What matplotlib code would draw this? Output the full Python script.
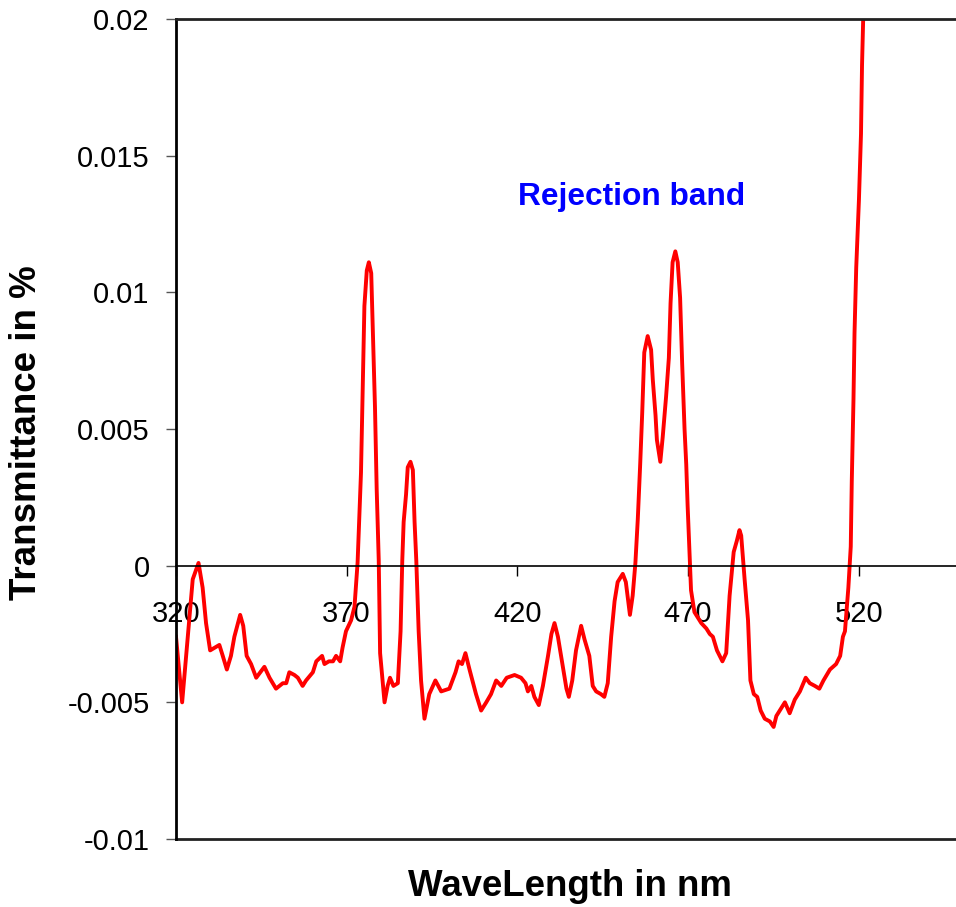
import matplotlib.pyplot as plt

plt.rcParams['font.family'] = ['Liberation Sans', 'DejaVu Sans']

# wavelength (nm) and transmittance (%)
wavelength = [320.0, 321.8, 324.9, 326.6, 327.8, 328.8, 330.0, 332.7, 333.7, 334.9,
              336.1, 337.1, 338.8, 339.7, 340.7, 342.0, 343.5, 345.9, 347.4, 349.3,
              351.3, 352.3, 353.2, 354.7, 355.7, 357.1, 358.1, 360.1, 361.1, 362.8,
              363.5, 364.8, 366.0, 366.9, 368.1, 368.8, 369.8, 371.3, 372.3, 373.2,
              374.2, 374.7, 375.2, 375.9, 376.5, 377.2, 377.6, 378.3, 378.8, 379.4,
              379.8, 381.1, 382.0, 382.7, 383.7, 385.0, 385.8, 386.3, 386.7, 387.4,
              387.9, 388.7, 389.4, 389.9, 390.4, 391.1, 391.8, 392.8, 394.2, 396.0,
              397.7, 400.1, 401.9, 402.8, 403.8, 404.8, 406.0, 407.9, 409.4, 410.9,
              412.3, 413.8, 415.3, 416.9, 419.2, 421.1, 422.4, 423.1, 424.1, 425.0,
              426.3, 427.5, 429.0, 430.0, 430.9, 431.9, 433.2, 434.4, 435.1, 436.1,
              437.2, 438.7, 439.7, 441.1, 442.1, 443.1, 444.5, 445.5, 446.5, 447.5,
              448.5, 449.4, 450.9, 451.8, 453.0, 453.8, 454.6, 455.3, 456.0, 456.6,
              457.2, 458.2, 459.2, 459.7, 460.5, 460.9, 461.9, 462.6, 463.6, 464.4,
              464.9, 465.5, 466.3, 467.0, 467.7, 468.3, 469.0, 469.5, 469.9, 470.4,
              470.9, 471.9, 473.9, 475.4, 476.4, 477.3, 478.5, 480.1, 481.2, 482.2,
              483.4, 484.3, 485.1, 485.6, 486.6, 487.6, 488.3, 489.3, 490.3, 491.3,
              492.5, 494.0, 495.1, 495.9, 496.9, 498.4, 499.8, 501.3, 502.8, 504.5,
              505.7, 507.2, 508.5, 509.7, 511.6, 513.4, 514.6, 515.4, 516.0, 517.0,
              517.7, 518.0, 518.5, 518.8, 519.3, 520.1, 520.7, 521.0, 521.4]

transmittance = [-0.0026, -0.0050, -0.0005, 0.0001, -0.0008, -0.0021, -0.0031, -0.0029, -0.0033, -0.0038,
                 -0.0033, -0.0026, -0.0018, -0.0022, -0.0033, -0.0036, -0.0041, -0.0037, -0.0041, -0.0045,
                 -0.0043, -0.0043, -0.0039, -0.0040, -0.0041, -0.0044, -0.0042, -0.0039, -0.0035, -0.0033,
                 -0.0036, -0.0035, -0.0035, -0.0033, -0.0035, -0.0030, -0.0024, -0.0020, -0.0015, 0.0001,
                 0.0034, 0.0064, 0.0095, 0.0108, 0.0111, 0.0107, 0.0089, 0.0058, 0.0028, 0.0002,
                 -0.0032, -0.0050, -0.0044, -0.0041, -0.0044, -0.0043, -0.0024, 0.0002, 0.0016, 0.0026,
                 0.0036, 0.0038, 0.0035, 0.0016, 0.0002, -0.0024, -0.0042, -0.0056, -0.0047, -0.0042,
                 -0.0046, -0.0045, -0.0039, -0.0035, -0.0036, -0.0032, -0.0038, -0.0047, -0.0053, -0.0050,
                 -0.0047, -0.0042, -0.0044, -0.0041, -0.0040, -0.0041, -0.0043, -0.0046, -0.0044, -0.0048,
                 -0.0051, -0.0044, -0.0033, -0.0025, -0.0021, -0.0026, -0.0036, -0.0045, -0.0048, -0.0042,
                 -0.0031, -0.0022, -0.0027, -0.0033, -0.0044, -0.0046, -0.0047, -0.0048, -0.0043, -0.0026,
                 -0.0013, -0.0006, -0.0003, -0.0006, -0.0018, -0.0011, 0.0001, 0.0017, 0.0037, 0.0056,
                 0.0078, 0.0084, 0.0079, 0.0068, 0.0055, 0.0046, 0.0038, 0.0047, 0.0062, 0.0076,
                 0.0096, 0.0111, 0.0115, 0.0111, 0.0098, 0.0074, 0.0050, 0.0037, 0.0022, 0.0006,
                 -0.0009, -0.0017, -0.0021, -0.0023, -0.0025, -0.0026, -0.0031, -0.0035, -0.0032, -0.0011,
                 0.0005, 0.0009, 0.0013, 0.0011, -0.0005, -0.0020, -0.0042, -0.0047, -0.0048, -0.0053,
                 -0.0056, -0.0057, -0.0059, -0.0055, -0.0053, -0.0050, -0.0054, -0.0049, -0.0046, -0.0041,
                 -0.0043, -0.0044, -0.0045, -0.0042, -0.0038, -0.0036, -0.0033, -0.0026, -0.0024, -0.0008,
                 0.0007, 0.0031, 0.0061, 0.0085, 0.0109, 0.0134, 0.0158, 0.0183, 0.0203]

xticks = [320, 370, 420, 470, 520]
yticks = [-0.01, -0.005, 0, 0.005, 0.01, 0.015, 0.02]
ytick_labels = ['-0.01', '-0.005', '0', '0.005', '0.01', '0.015', '0.02']

fig = plt.figure(figsize=(9.56, 9.07), dpi=100)
ax = fig.add_axes([176 / 956, 68 / 907, 785 / 956, 820 / 907])

ax.plot(wavelength, transmittance, color='#ff0000', lw=2.8)

ax.set_xlim(320, 550)
ax.set_ylim(-0.01, 0.02)

# x axis sits on the zero line, frame closed at the bottom by a plain line
ax.spines['bottom'].set_position(('data', 0))
ax.spines['bottom'].set_linewidth(1.2)
ax.axhline(-0.01, color='#222222', lw=2, clip_on=False)
ax.spines['right'].set_visible(False)
ax.spines['top'].set_linewidth(2)
ax.spines['top'].set_color('#222222')
ax.spines['left'].set_linewidth(2)

ax.set_xticks(xticks)
ax.set_xticklabels([str(t) for t in xticks])
ax.set_yticks(yticks)
ax.set_yticklabels(ytick_labels)
ax.tick_params(axis='x', direction='out', length=7, width=1, labelsize=21, pad=18)
ax.tick_params(axis='y', direction='out', length=7, width=1, color='#555555',
               labelsize=21, pad=12)

fig.text(570 / 956, 1 - 887 / 907, 'WaveLength in nm', ha='center', va='center',
         fontsize=26.4, fontweight='bold')
fig.text(27 / 956, 1 - 433 / 907, 'Transmittance in %', ha='center', va='center',
         rotation=90, fontsize=26.5, fontweight='bold')

ax.text(453.5, 0.0135, 'Rejection band', ha='center', va='center',
        fontsize=22.8, fontweight='bold', color='#0000ff')

fig.savefig('out.png', dpi=100)
